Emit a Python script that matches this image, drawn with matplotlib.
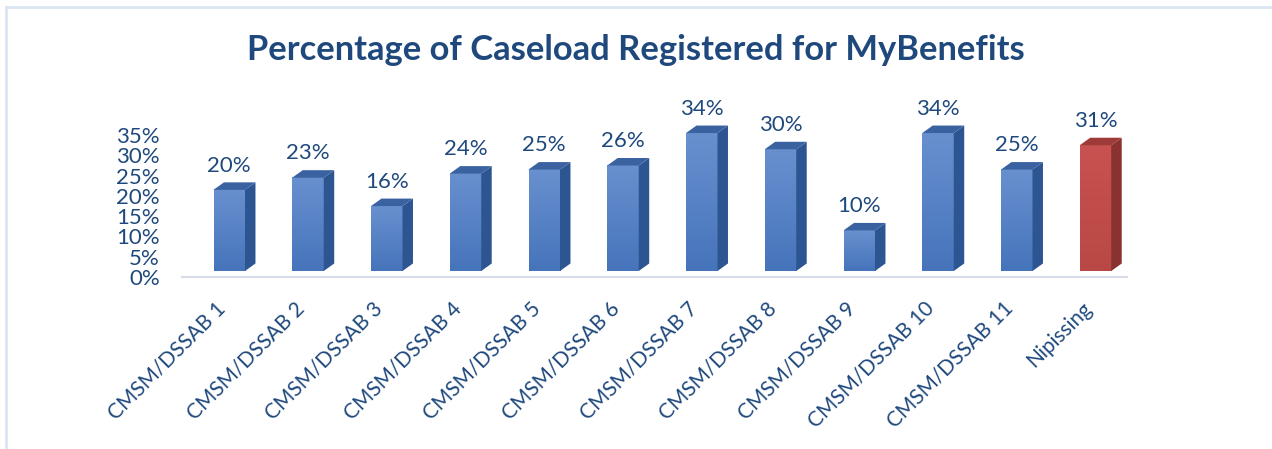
import matplotlib.pyplot as plt
import numpy as np
from matplotlib.patches import Polygon
from matplotlib.lines import Line2D
from matplotlib.colors import LinearSegmentedColormap
from matplotlib.transforms import offset_copy

# data
regions = ['CMSM/DSSAB 1', 'CMSM/DSSAB 2', 'CMSM/DSSAB 3', 'CMSM/DSSAB 4',
           'CMSM/DSSAB 5', 'CMSM/DSSAB 6', 'CMSM/DSSAB 7', 'CMSM/DSSAB 8',
           'CMSM/DSSAB 9', 'CMSM/DSSAB 10', 'CMSM/DSSAB 11', 'Nipissing']
pct = [0.20, 0.23, 0.16, 0.24, 0.25, 0.26, 0.34, 0.30, 0.10, 0.34, 0.25, 0.31]
yticks = [0, 0.05, 0.10, 0.15, 0.20, 0.25, 0.30, 0.35]

txt = '#1f497d'
blue = dict(top='#6890cf', bottom='#4674bb', side='#2d5592', cap='#3b62a0')
red = dict(top='#c8524f', bottom='#b94845', side='#8a3230', cap='#9e3a38')

plt.rcParams['font.family'] = ['Lato', 'DejaVu Sans']

fig = plt.figure(figsize=(12.72, 4.49), dpi=100)
ax = fig.add_axes([182/1272, 172/449, 945/1272, 0.40*405.7/449])

w = 0.40       # front face width
dx = 0.133     # depth, x
dy = 0.0185    # depth, y
off = 0.0148   # front face sits a bit above the floor edge

grad = np.linspace(1, 0, 64).reshape(-1, 1)
for i, v in enumerate(pct):
    c = red if regions[i] == 'Nipissing' else blue
    x0 = i - w/2
    b = off
    t = off + v
    # front face, vertical gradient
    cm = LinearSegmentedColormap.from_list('g', [c['bottom'], c['top']])
    ax.imshow(grad, cmap=cm, extent=[x0, x0 + w, b, t], aspect='auto',
              origin='upper', zorder=3, interpolation='bicubic')
    # side face
    ax.add_patch(Polygon([[x0 + w, b], [x0 + w + dx, b + dy], [x0 + w + dx, t + dy], [x0 + w, t]],
                         closed=True, fc=c['side'], ec='none', zorder=3))
    # top face
    ax.add_patch(Polygon([[x0, t], [x0 + dx, t + dy], [x0 + w + dx, t + dy], [x0 + w, t]],
                         closed=True, fc=c['cap'], ec='none', zorder=3))
    ax.text(i, t + 0.045, '{:.0f}%'.format(v*100), ha='center', va='baseline',
            fontsize=16, color=txt)

ax.set_xlim(-0.6, 11.4)
ax.set_ylim(0, 0.40)
ax.set_yticks(yticks)
ax.set_yticklabels(['{:.0f}%'.format(t*100) for t in yticks], fontsize=16, color=txt)
ax.set_xticks([])

# category labels, rotated, anchored just below the floor edge
lab_tr = offset_copy(ax.transData, fig=fig, x=-14, y=-21, units='dots')
for i, name in enumerate(regions):
    ax.text(i, 0, name, rotation=45, ha='right', va='top', rotation_mode='anchor',
            fontsize=15, color=txt, transform=lab_tr, clip_on=False)

ax.tick_params(axis='both', length=0)
ax.tick_params(axis='y', pad=16)
for s in ['top', 'right', 'left']:
    ax.spines[s].set_visible(False)
ax.spines['bottom'].set_color('#d6dce8')
ax.spines['bottom'].set_linewidth(1.5)

fig.text(0.5, 1 - 50/449, 'Percentage of Caseload Registered for MyBenefits',
         ha='center', va='center', fontsize=24.8, fontweight='bold', color=txt)

# light frame (only the top and left edges show in the crop)
fig.add_artist(Line2D([6/1272, 1], [1 - 7/449, 1 - 7/449], color='#dbe5f3', lw=2))
fig.add_artist(Line2D([6/1272, 6/1272], [0, 1 - 7/449], color='#dbe5f3', lw=2))

fig.savefig('out.png', dpi=100)
